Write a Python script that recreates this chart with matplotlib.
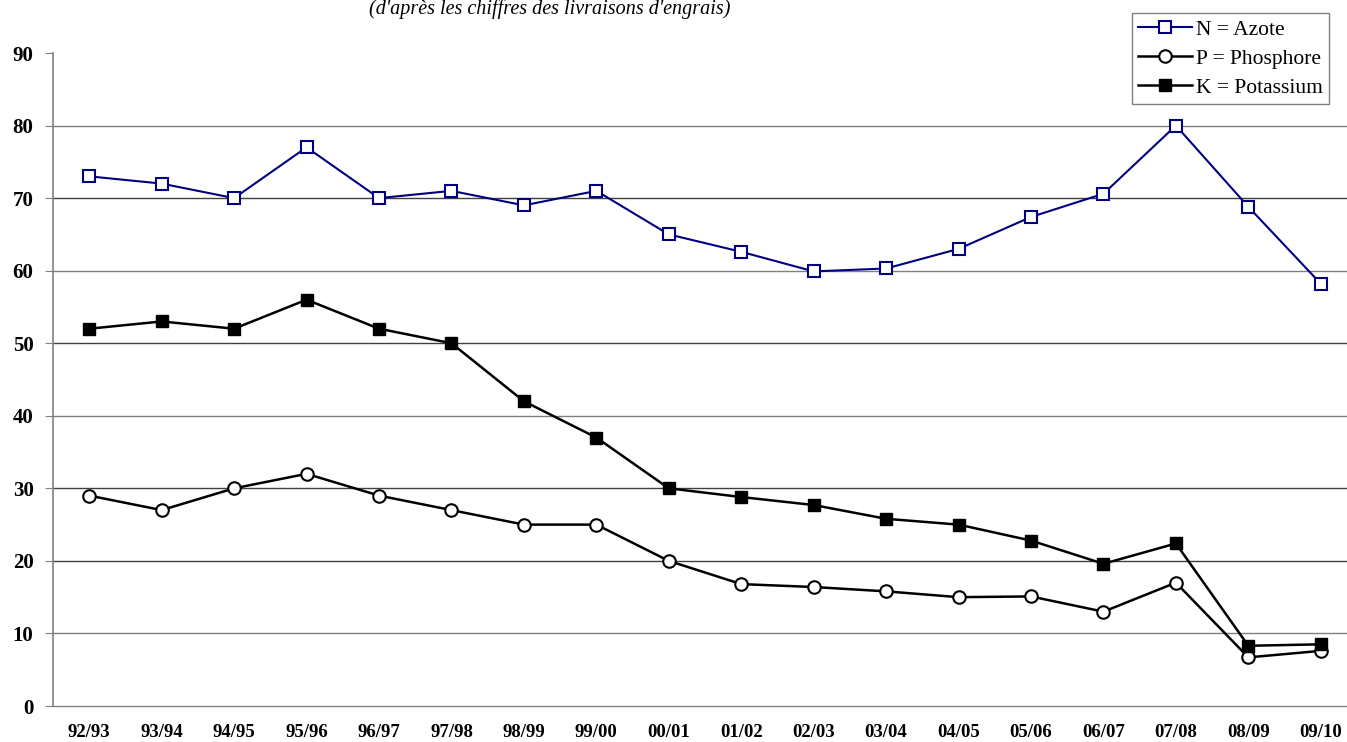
import matplotlib
matplotlib.use("Agg")
import matplotlib.pyplot as plt

campagnes = ["92/93", "93/94", "94/95", "95/96", "96/97", "97/98", "98/99", "99/00",
             "00/01", "01/02", "02/03", "03/04", "04/05", "05/06", "06/07", "07/08",
             "08/09", "09/10"]
azote = [73, 72, 70, 77, 70, 71, 69, 71, 65, 62.6, 59.9, 60.3, 63, 67.4, 70.6, 80, 68.8, 58.2]
phosphore = [29, 27, 30, 32, 29, 27, 25, 25, 20, 16.8, 16.4, 15.8, 15, 15.1, 13, 17, 6.7, 7.6]
potassium = [52, 53, 52, 56, 52, 50, 42, 37, 30, 28.8, 27.7, 25.8, 25, 22.8, 19.6, 22.4, 8.3, 8.5]

plt.rcParams['font.family'] = ['Liberation Serif', 'DejaVu Serif']

W, H = 1347, 742
fig = plt.figure(figsize=(W / 100, H / 100), dpi=100)
left, right, bottom, top = 53, 1357, 706, 53
ax = fig.add_axes([left / W, 1 - bottom / H, (right - left) / W, (bottom - top) / H])

x = range(len(campagnes))
ax.plot(x, azote, color='#000080', lw=1.5, marker='s', ms=9, mfc='white',
        mec='#000080', mew=1.5, label='N = Azote', zorder=3)
ax.plot(x, phosphore, color='black', lw=1.8, marker='o', ms=9, mfc='white',
        mec='black', mew=1.5, label='P = Phosphore', zorder=3)
ax.plot(x, potassium, color='black', lw=1.8, marker='s', ms=9, mfc='black',
        mec='black', label='K = Potassium', zorder=3)

ax.set_xlim(-0.5, len(campagnes) - 0.5)
ax.set_ylim(0, 90)
ax.set_yticks(range(0, 91, 10))
ax.set_xticks(list(x))
ax.set_xticklabels(campagnes)
for lab in ax.get_xticklabels() + ax.get_yticklabels():
    lab.set_fontweight('bold')
ax.tick_params(axis='y', labelsize=15, length=6, color='#808080', direction='out', pad=8)
ax.tick_params(axis='x', labelsize=13.5, length=0, pad=13)

for v in range(0, 90, 10):
    ax.axhline(v, color='#808080' if v in (0, 10, 40, 60, 80) else '#404040', lw=1,
               zorder=1, clip_on=False)

for s in ['top', 'right', 'bottom']:
    ax.spines[s].set_visible(False)
ax.spines['left'].set_color('#808080')
ax.spines['left'].set_linewidth(1.2)

leg = fig.legend(loc='upper left', bbox_to_anchor=(1132 / W, 1 - 13 / H), fontsize=15.5,
                 frameon=True, fancybox=False, edgecolor='#606060', handlelength=2.5,
                 borderpad=0.3, labelspacing=0.42, handletextpad=0.15, borderaxespad=0)
leg.get_frame().set_linewidth(1)

fig.text(550 / W, 1 - 9 / H, "(d'après les chiffres des livraisons d'engrais)", ha='center',
         va='center', fontsize=14.5, style='italic')

fig.savefig('out.png', dpi=100)
